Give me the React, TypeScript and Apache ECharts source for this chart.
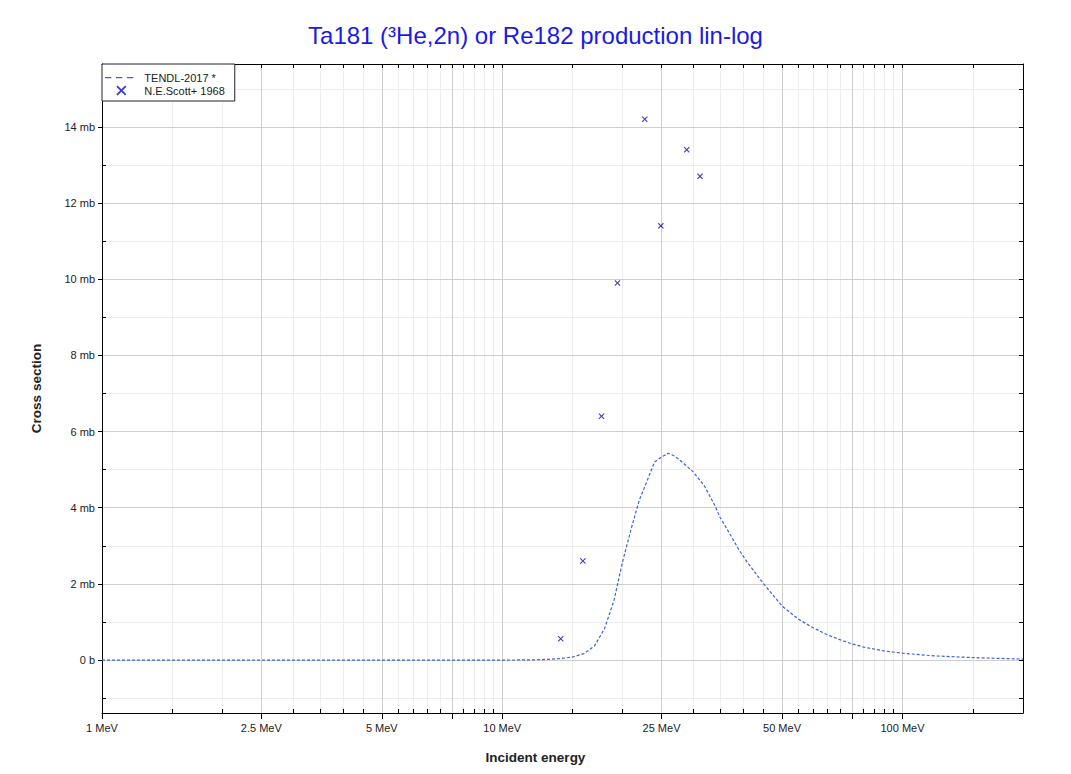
import React, { useEffect, useRef } from "react";
import * as echarts from "echarts";

const TITLE = "Ta181 (³He,2n) or Re182 production lin-log";

// TENDL-2017 evaluated curve (MeV, mb)
const tendlEnergy = [1, 5, 10, 12, 13, 14, 15, 16, 17, 18, 19, 20, 21, 22, 23, 24, 25, 26, 27, 28, 30, 32, 34, 35, 37, 39, 41, 45, 50, 55, 60, 65, 70, 75, 80, 90, 100, 120, 150, 200];
const tendlXs = [0, 0, 0, 0.005, 0.02, 0.04, 0.08, 0.17, 0.37, 0.82, 1.55, 2.6, 3.45, 4.2, 4.7, 5.2, 5.33, 5.43, 5.35, 5.22, 4.94, 4.57, 4.05, 3.75, 3.32, 2.9, 2.56, 2.0, 1.42, 1.07, 0.84, 0.66, 0.53, 0.42, 0.34, 0.24, 0.18, 0.11, 0.065, 0.025];

// N.E.Scott+ 1968 measurements (MeV, mb)
const scottEnergy = [14.0, 15.9, 17.7, 19.4, 22.7, 24.9, 28.9, 31.2];
const scottXs = [0.56, 2.6, 6.4, 9.9, 14.2, 11.4, 13.4, 12.7];

// axis ticks
const xMajorTicks = [1, 2.5, 5, 7.5, 10, 25, 50, 75, 100];
const xMinorTicks = [1.5, 2, 3, 3.5, 4, 4.5, 5.5, 6, 6.5, 7, 8, 8.5, 9, 9.5, 15, 20, 30, 35, 40, 45, 55, 60, 65, 70, 80, 85, 90, 95, 150];
const xLabelValues = [1, 2.5, 5, 10, 25, 50, 100];
const yMajorTicks = [0, 2, 4, 6, 8, 10, 12, 14];
const yMinorTicks = [-1, 1, 3, 5, 7, 9, 11, 13, 15];

const X_MIN = 1;
const X_MAX = 200;
const Y_MIN = -1.39;
const Y_MAX = 15.65;

const FONT = "'Liberation Sans', Arial, sans-serif";
const xAll = [...xMajorTicks, ...xMinorTicks];
const yAll = [...yMajorTicks, ...yMinorTicks];

export default function App() {
  const ref = useRef<HTMLDivElement>(null);
  useEffect(() => {
    document.body.style.margin = "0";
    const chart = echarts.init(ref.current!, undefined, { renderer: "svg" });
    const crossPath = "path://M0,1.3L1.3,0L5,3.7L8.7,0L10,1.3L6.3,5L10,8.7L8.7,10L5,6.3L1.3,10L0,8.7L3.7,5Z";
    const dashIcon =
      "path://M0,0h0.01v0.01h-0.01zM0,5h7v1.3h-7zM12,5h7v1.3h-7zM24,5h7v1.3h-7zM35.99,10.99h0.01v0.01h-0.01z";
    const option: any = {
      animation: false,
      backgroundColor: "#fff",
      textStyle: { fontFamily: FONT },
      title: {
        text: TITLE,
        left: "center",
        top: 23,
        padding: 0,
        textStyle: { fontSize: 24, fontWeight: "normal", color: "#1a1ae6", fontFamily: FONT },
      },
      legend: {
        left: 102,
        top: 64,
        orient: "vertical",
        backgroundColor: "#fff",
        borderColor: "#222",
        borderWidth: 1,
        borderRadius: 0,
        padding: [8, 10, 5, 3],
        itemGap: 2,
        itemWidth: 36,
        itemHeight: 10,
        textStyle: { fontSize: 11, color: "#222", fontFamily: FONT },
        data: [
          { name: "TENDL-2017 *", icon: dashIcon, itemStyle: { color: "#3a62e0" } },
          { name: "N.E.Scott+ 1968" },
        ],
        z: 20,
      },
      grid: { left: 102, right: 48, top: 64, bottom: 61, containLabel: false },
      xAxis: [
        {
          type: "log",
          logBase: 10,
          min: X_MIN,
          max: X_MAX,
          position: "bottom",
          z: 1,
          name: "Incident energy",
          nameLocation: "middle",
          nameGap: 37,
          nameTextStyle: {
            fontSize: 13.5,
            fontWeight: "bold",
            color: "#222",
            fontFamily: FONT,
            padding: [0, 54, 0, 0],
          },
          axisLine: { show: true, onZero: false, lineStyle: { color: "#000", width: 1 } },
          axisTick: { show: true, customValues: xMajorTicks, inside: false, length: 6, lineStyle: { color: "#000" } },
          axisLabel: {
            show: true,
            customValues: xLabelValues,
            formatter: (v: number) => `${v} MeV`,
            fontSize: 11,
            color: "#222",
            margin: 9,
            fontFamily: FONT,
          },
          splitLine: { show: true, lineStyle: { color: "#cfcfcf", width: 1 } },
        },
        {
          type: "log",
          logBase: 10,
          min: X_MIN,
          max: X_MAX,
          position: "bottom",
          z: 0,
          axisLine: { show: false, onZero: false },
          axisTick: { show: true, customValues: xAll, inside: true, length: 4, lineStyle: { color: "#000" } },
          axisLabel: { show: false },
          splitLine: { show: true, lineStyle: { color: "#ededed", width: 1 } },
        },
        {
          type: "log",
          logBase: 10,
          min: X_MIN,
          max: X_MAX,
          position: "top",
          z: 1,
          axisLine: { show: true, onZero: false, lineStyle: { color: "#000", width: 1 } },
          axisTick: { show: true, customValues: xAll, inside: true, length: 4, lineStyle: { color: "#000" } },
          axisLabel: { show: false },
          splitLine: { show: false },
        },
      ],
      yAxis: [
        {
          type: "value",
          min: Y_MIN,
          max: Y_MAX,
          position: "left",
          z: 1,
          name: "Cross section",
          nameLocation: "middle",
          nameGap: 59,
          nameTextStyle: { fontSize: 13.5, fontWeight: "bold", color: "#222", fontFamily: FONT },
          axisLine: { show: true, onZero: false, lineStyle: { color: "#000", width: 1 } },
          axisTick: { show: true, customValues: yMajorTicks, inside: false, length: 4, lineStyle: { color: "#000" } },
          axisLabel: {
            show: true,
            customValues: yMajorTicks,
            formatter: (v: number) => (v === 0 ? "0 b" : `${v} mb`),
            fontSize: 11,
            color: "#222",
            margin: 7,
            fontFamily: FONT,
          },
          splitLine: { show: true, lineStyle: { color: "#cfcfcf", width: 1 } },
        },
        {
          type: "value",
          min: Y_MIN,
          max: Y_MAX,
          position: "left",
          z: 0,
          axisLine: { show: false, onZero: false },
          axisTick: { show: true, customValues: yAll, inside: true, length: 4, lineStyle: { color: "#000" } },
          axisLabel: { show: false },
          splitLine: { show: true, lineStyle: { color: "#ededed", width: 1 } },
        },
        {
          type: "value",
          min: Y_MIN,
          max: Y_MAX,
          position: "right",
          z: 1,
          axisLine: { show: true, onZero: false, lineStyle: { color: "#000", width: 1 } },
          axisTick: { show: true, customValues: yAll, inside: true, length: 4, lineStyle: { color: "#000" } },
          axisLabel: { show: false },
          splitLine: { show: false },
        },
      ],
      series: [
        {
          name: "TENDL-2017 *",
          type: "line",
          xAxisIndex: 0,
          yAxisIndex: 0,
          data: tendlEnergy.map((e, i) => [e, tendlXs[i]]),
          showSymbol: false,
          symbol: "none",
          smooth: false,
          lineStyle: { color: "#3a62e0", width: 1.2, type: [3, 2] },
          itemStyle: { color: "#3a62e0" },
          z: 3,
        },
        {
          name: "N.E.Scott+ 1968",
          type: "scatter",
          xAxisIndex: 0,
          yAxisIndex: 0,
          data: scottEnergy.map((e, i) => [e, scottXs[i]]),
          symbol: crossPath,
          symbolSize: 6,
          itemStyle: { color: "#0c0cbf" },
          z: 4,
        },
      ],
    };
    chart.setOption(option);
    return () => chart.dispose();
  }, []);
  return <div ref={ref} style={{ width: 1071, height: 774 }} />;
}
